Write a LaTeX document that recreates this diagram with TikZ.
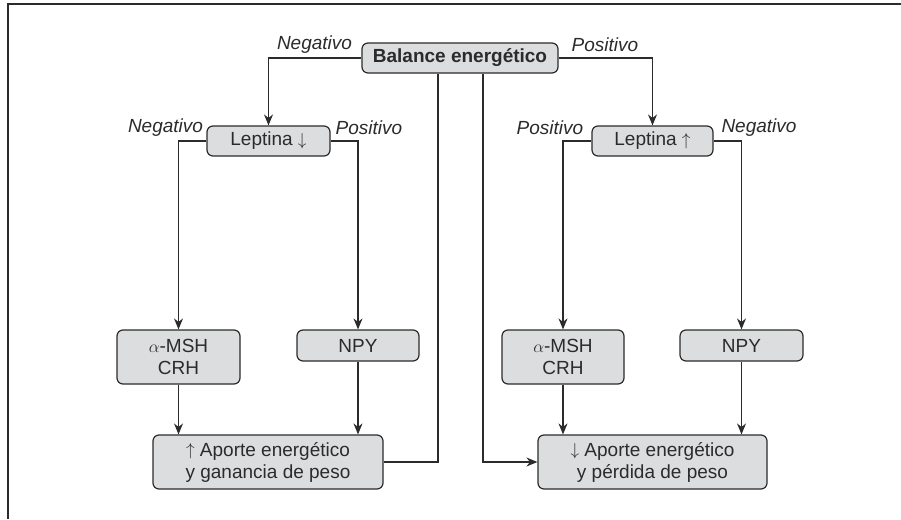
\documentclass[tikz,border=0pt]{standalone}
\usepackage{fontspec}
\setmainfont{Liberation Sans}
\usetikzlibrary{arrows.meta}
\definecolor{boxfill}{HTML}{DCDDDF}
\definecolor{ink}{HTML}{2B2B2B}
\newcommand{\uarr}{\raisebox{0.5pt}{$\uparrow$}}
\newcommand{\darr}{\raisebox{0.5pt}{$\downarrow$}}
\tikzset{
  box/.style={draw=ink, line width=1.2pt, fill=boxfill, rounded corners=6pt,
    align=center, inner sep=0pt, font=\fontsize{19}{22}\selectfont, text=ink},
  conn/.style={draw=ink, line width=1.2pt},
  arr/.style={conn, -{Stealth[length=11pt,width=9pt]}},
  lbl/.style={font=\fontsize{19}{22}\selectfont\itshape, text=ink, inner sep=0pt},
}
\begin{document}
\begin{tikzpicture}[x=1pt,y=-1pt]
\useasboundingbox (0,0) rectangle (901,519);
\draw[ink, line width=1.6pt] (7,4) -- (901,4);
\draw[ink, line width=1.6pt] (8,4) -- (8,519);

\node[box, minimum width=196, minimum height=30, font=\fontsize{19}{22}\selectfont\bfseries] (bal) at (460,58) {Balance energético};
\node[box, minimum width=123, minimum height=30] (lepD) at (268.5,141) {Leptina \darr};
\node[box, minimum width=121, minimum height=30] (lepU) at (652.5,141) {Leptina \uarr};
\node[box, minimum width=123, minimum height=54] (amL) at (178.5,357) {$\alpha$-MSH\\CRH};
\node[box, minimum width=122, minimum height=31] (npyL) at (358,345.5) {NPY};
\node[box, minimum width=122, minimum height=54] (amR) at (563,357) {$\alpha$-MSH\\CRH};
\node[box, minimum width=123, minimum height=31] (npyR) at (741.5,345.5) {NPY};
\node[box, minimum width=230, minimum height=54] (botL) at (268,462) {\uarr\ Aporte energético\\y ganancia de peso};
\node[box, minimum width=229, minimum height=54] (botR) at (652.5,462) {\darr\ Aporte energético\\y pérdida de peso};

\node[lbl] (l1) at (314.5,45) {Negativo};
\node[lbl] (l2) at (605,45) {Positivo};
\node[lbl] (l3) at (165.5,128) {Negativo};
\node[lbl] (l4) at (369,128) {Positivo};
\node[lbl] (l5) at (550,128) {Positivo};
\node[lbl] (l6) at (759,128) {Negativo};

\draw[arr] (bal.west) -| (lepD.north);
\draw[arr] (bal.east) -| (lepU.north);
\draw[arr] (lepD.west) -| (amL.north);
\draw[arr] (lepD.east) -| (npyL.north);
\draw[arr] (lepU.west) -| (amR.north);
\draw[arr] (lepU.east) -| (npyR.north);
\draw[arr] (amL.south) -- (amL.south |- botL.north);
\draw[arr] (npyL.south) -- (npyL.south |- botL.north);
\draw[arr] (amR.south) -- (amR.south |- botR.north);
\draw[arr] (npyR.south) -- (npyR.south |- botR.north);
\draw[conn] (botL.east) -| ([xshift=-22pt]bal.south);
\draw[arr] ([xshift=23pt]bal.south) |- (botR.west);
\end{tikzpicture}
\end{document}
